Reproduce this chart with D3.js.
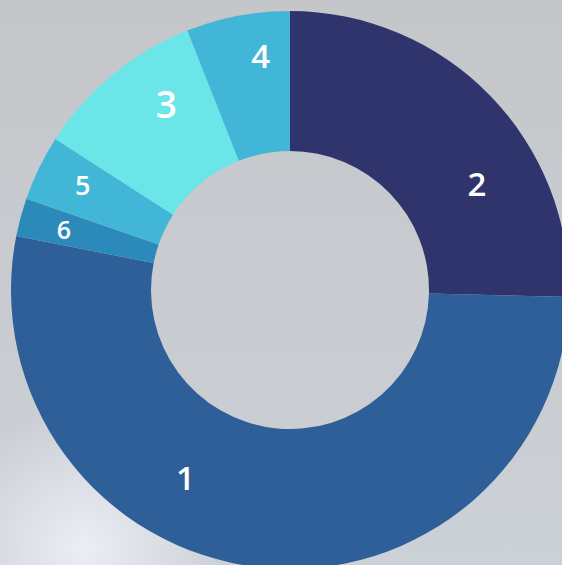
<!DOCTYPE html>
<html>
<head>
<meta charset="utf-8">
<script src="https://cdn.jsdelivr.net/npm/d3@7"></script>
<style>
  html, body { margin: 0; padding: 0; overflow: hidden; }
  svg { display: block; }
</style>
</head>
<body>
<svg id="chart"></svg>
<script>
// slices in drawing order, clockwise from 12 o'clock
const categories = ['2', '1', '6', '5', '3', '4'];
const values = [25.4, 52.7, 2.2, 3.8, 9.9, 6.0];
const colors = ['#30346c', '#2e5f99', '#2c8aba', '#41b6d6', '#6be6e8', '#41b6d6'];

// where each label sits: fraction along its slice, distance from centre, font size
const labelAt = [0.66, 0.62, 0.46, 0.56, 0.66, 0.67];
const labelRadius = [215, 215, 234, 232, 223, 236];
const labelSize = [33, 33, 25, 27, 37, 33];

const width = 562;
const height = 565;
const cx = 290, cy = 290;
const outerR = 279, innerR = 139;

const svg = d3.select('#chart')
    .attr('width', width)
    .attr('height', height);

// grey backdrop
const defs = svg.append('defs');
const bg = defs.append('linearGradient')
    .attr('id', 'bg')
    .attr('x1', 0).attr('y1', 0).attr('x2', 0).attr('y2', 1);
bg.append('stop').attr('offset', '0%').attr('stop-color', '#c4c6c9');
bg.append('stop').attr('offset', '100%').attr('stop-color', '#ccd1d7');

const glow = defs.append('radialGradient')
    .attr('id', 'glow')
    .attr('cx', 0.15).attr('cy', 0.97).attr('r', 0.25);
glow.append('stop').attr('offset', '0%').attr('stop-color', '#eef2f8').attr('stop-opacity', 0.9);
glow.append('stop').attr('offset', '100%').attr('stop-color', '#eef2f8').attr('stop-opacity', 0);

svg.append('rect').attr('width', width).attr('height', height).attr('fill', 'url(#bg)');
svg.append('rect').attr('width', width).attr('height', height).attr('fill', 'url(#glow)');

const data = categories.map((c, i) => ({ name: c, value: values[i], color: colors[i], i }));

const pie = d3.pie()
    .sort(null)
    .value(d => d.value);

const arc = d3.arc()
    .innerRadius(innerR)
    .outerRadius(outerR);

const chart = svg.append('g')
    .attr('transform', `translate(${cx}, ${cy})`);

const slices = pie(data);

chart.selectAll('.slice')
    .data(slices)
    .enter()
    .append('path')
        .attr('class', 'slice')
        .attr('d', arc)
        .attr('fill', d => d.data.color);

chart.selectAll('.label')
    .data(slices)
    .enter()
    .append('text')
        .attr('class', 'label')
        .attr('transform', d => {
            const i = d.data.i;
            const a = d.startAngle + (d.endAngle - d.startAngle) * labelAt[i];
            const r = labelRadius[i];
            return `translate(${r * Math.sin(a)}, ${-r * Math.cos(a)})`;
        })
        .attr('text-anchor', 'middle')
        .attr('dy', '0.36em')
        .style('font-family', '"Open Sans", "Noto Sans", sans-serif')
        .style('font-weight', 600)
        .style('font-size', d => `${labelSize[d.data.i]}px`)
        .attr('fill', '#ffffff')
        .text(d => d.data.name);
</script>
</body>
</html>
